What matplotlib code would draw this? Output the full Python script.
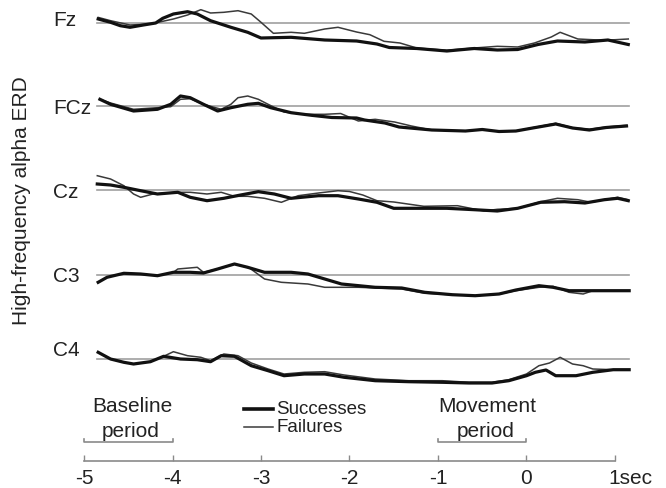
"""
High-frequency alpha ERD, successes vs failures, per channel
"""

import matplotlib
matplotlib.use("Agg")
from matplotlib import pyplot as plt
from matplotlib import transforms

plt.rcParams["font.family"] = ["Liberation Sans", "DejaVu Sans"]

channels = ["Fz", "FCz", "Cz", "C3", "C4"]

# Fz
t_fz_succ = [-4.84, -4.7, -4.59, -4.48, -4.33, -4.19, -4.11, -3.99, -3.83, -3.72, -3.57,
             -3.34, -3.15, -3.0, -2.66, -2.28, -1.92, -1.69, -1.55, -1.24, -0.9, -0.59,
             -0.33, -0.1, 0.13, 0.35, 0.66, 0.92, 1.15]
fz_succ = [4, 0.7, -2.7, -4.3, -2, 0, 4.7, 9, 11.3, 9, 2.3, -4.3, -9.3, -15, -14.3, -17,
           -18, -21, -24.5, -25.5, -28, -25.5, -27, -26.5, -21.5, -18, -19, -17, -21.5]
t_fz_fail = [-4.84, -4.7, -4.48, -4.25, -3.99, -3.83, -3.68, -3.57, -3.42, -3.26, -3.11,
             -3.0, -2.86, -2.66, -2.51, -2.28, -2.13, -1.92, -1.77, -1.61, -1.43, -1.24,
             -0.9, -0.59, -0.33, -0.1, 0.09, 0.28, 0.38, 0.58, 0.88, 1.15]
fz_fail = [5.6, 2.3, -2, -1, 4, 8, 13.3, 10, 10.7, 12.3, 9, 0.7, -10.3, -9.3, -10.3, -6,
           -4.3, -9, -11.7, -18.3, -20, -25, -27.3, -25, -23.3, -24, -20, -14, -9.3, -16,
           -17.3, -16]

# FCz
t_fcz_succ = [-4.82, -4.7, -4.44, -4.17, -4.02, -3.91, -3.8, -3.65, -3.49, -3.34, -3.15,
              -3.03, -2.89, -2.66, -2.43, -2.2, -1.92, -1.83, -1.6, -1.44, -1.07, -0.69,
              -0.5, -0.31, -0.12, 0.07, 0.33, 0.52, 0.71, 0.9, 1.13]
fcz_succ = [6.7, 1.7, -5, -3.3, 1.7, 10, 8.3, 1.7, -5, -1.7, 1.7, 2.7, -1.7, -6.7, -9.3,
            -11.5, -12, -14, -17, -21, -24, -25, -23.5, -25.5, -25, -22, -18, -22, -24,
            -21.5, -20]
t_fcz_fail = [-4.82, -4.7, -4.44, -4.17, -4.02, -3.91, -3.8, -3.65, -3.45, -3.34, -3.26,
              -3.15, -3.03, -2.92, -2.74, -2.51, -2.28, -2.1, -1.9, -1.71, -1.49, -1.3,
              -1.07, -0.69, -0.5, -0.31, -0.12, 0.07, 0.33, 0.52, 0.71, 0.9, 1.13]
fcz_fail = [6.7, 3, -3.3, -1.7, -0.7, 6.7, 7.3, 1.7, -3.3, 1.7, 8.3, 10, 6.7, 1.7, -6,
            -8.3, -8.3, -7.5, -15, -13.3, -16, -20, -24, -25, -23.3, -25.7, -25, -21.7,
            -17.3, -21.7, -23.3, -21, -19.3]

# Cz
t_cz_succ = [-4.85, -4.7, -4.55, -4.36, -4.17, -3.94, -3.8, -3.61, -3.42, -3.23, -3.03,
             -2.85, -2.66, -2.35, -2.13, -1.9, -1.69, -1.5, -1.16, -0.9, -0.59, -0.33,
             -0.1, 0.16, 0.43, 0.66, 0.88, 1.03, 1.15]
cz_succ = [6, 5, 2.7, -0.7, -4, -2.3, -7.3, -10.7, -8.3, -5, -1.7, -4, -8.3, -5.7, -5.7,
           -9, -12.3, -18.3, -18.3, -18.3, -19.7, -21, -18.3, -12.3, -11.7, -13, -9.7,
           -8.3, -10.7]
t_cz_fail = [-4.85, -4.7, -4.55, -4.44, -4.36, -4.22, -3.94, -3.8, -3.61, -3.45, -3.3,
             -3.15, -2.96, -2.77, -2.58, -2.35, -2.13, -2.0, -1.85, -1.69, -1.5, -1.16,
             -0.78, -0.48, -0.33, -0.1, 0.16, 0.35, 0.58, 0.73, 0.88, 1.03, 1.15]
cz_fail = [14.3, 11, 4.3, -4, -7.3, -4, -2.3, -2.3, -4, -2.3, -6.3, -6.3, -8.3, -12.3,
           -5.7, -3, -0.7, -1.5, -5, -10.7, -12, -16.3, -15.7, -21, -19.3, -18.3, -11.7,
           -8.3, -9.7, -12.3, -9.7, -7.3, -9.7]

# C3
t_c3_succ = [-4.84, -4.74, -4.55, -4.36, -4.17, -3.99, -3.8, -3.65, -3.49, -3.3, -3.15,
             -2.96, -2.66, -2.47, -2.28, -2.09, -1.71, -1.41, -1.15, -0.84, -0.58, -0.31,
             -0.12, 0.14, 0.3, 0.48, 0.75, 0.94, 1.16]
c3_succ = [-7.3, -2.3, 1.7, 1, -0.7, 2.7, 2.7, 2, 6, 11, 7.7, 2.7, 2.7, 1, -4, -9, -12.3,
           -13, -17.3, -19.7, -20.7, -19, -15, -10.7, -12.3, -15.7, -15.7, -15.7, -15.7]
t_c3_fail = [-4.84, -4.74, -4.55, -4.36, -4.17, -3.99, -3.94, -3.72, -3.65, -3.49, -3.3,
             -3.13, -2.96, -2.77, -2.47, -2.28, -1.9, -1.41, -1.15, -0.84, -0.58, -0.31,
             -0.12, 0.14, 0.3, 0.48, 0.64, 0.75, 0.94, 1.16]
c3_fail = [-7.3, -2.3, 1.7, 1, -0.7, 2.7, 6, 7.7, 2.7, 6, 11, 7, -4, -7.3, -9, -12.3,
           -12.3, -14, -18.3, -19.7, -20.7, -19, -15.7, -12.3, -11.3, -17.3, -19, -15.7,
           -15.7, -15.7]

# C4
t_c4_succ = [-4.84, -4.7, -4.55, -4.44, -4.25, -4.1, -3.91, -3.72, -3.57, -3.45, -3.3,
             -3.11, -2.92, -2.74, -2.51, -2.28, -2.06, -1.71, -1.33, -0.95, -0.65, -0.39,
             -0.2, 0.0, 0.1, 0.22, 0.33, 0.56, 0.75, 0.98, 1.16]
c4_succ = [6.7, 0, -3.3, -5, -2.7, 2.7, 0, -0.7, -2.7, 3.3, 2.7, -6.7, -11.7, -16.7, -15,
           -15, -18.3, -21.7, -22.7, -23.3, -24, -24, -21.7, -16.7, -13.3, -11, -16.7,
           -16.7, -13.3, -10.7, -10.7]
t_c4_fail = [-4.84, -4.7, -4.55, -4.44, -4.25, -4.1, -3.99, -3.83, -3.68, -3.57, -3.42,
             -3.26, -3.11, -2.92, -2.74, -2.51, -2.28, -2.06, -1.71, -1.33, -0.95, -0.65,
             -0.39, -0.2, 0.0, 0.14, 0.26, 0.38, 0.52, 0.64, 0.75, 0.98, 1.16]
c4_fail = [6.7, 0, -3.3, -5, -2.7, 2.7, 7.3, 3.3, 1.7, -1.7, 5, 3.3, -4, -10, -15, -13.3,
           -12.7, -16, -20, -21.7, -21.7, -23.3, -23.3, -20.7, -15, -6.7, -4, 1.7, -5,
           -6.7, -10, -10.7, -10.7]

succ = [(t_fz_succ, fz_succ), (t_fcz_succ, fcz_succ), (t_cz_succ, cz_succ),
        (t_c3_succ, c3_succ), (t_c4_succ, c4_succ)]
fail = [(t_fz_fail, fz_fail), (t_fcz_fail, fcz_fail), (t_cz_fail, cz_fail),
        (t_c3_fail, c3_fail), (t_c4_fail, c4_fail)]

xticks = [-5, -4, -3, -2, -1, 0, 1]
xticklabels = ["-5", "-4", "-3", "-2", "-1", "0", "1sec"]

# layout: vertical offset of each trace
offsets = [438, 355, 271, 186, 102]
t_start, t_end = -4.85, 1.16

fig = plt.figure(figsize=(6.66, 4.89), dpi=100)
ax = fig.add_axes([84 / 666, 27 / 489, 531 / 666, 462 / 489])
ax.set_xlim(-5, 1)
ax.set_ylim(0, 462)

fs = 15
txt_col = "#222222"

for name, off, (ts, vs), (tf, vf) in zip(channels, offsets, succ, fail):
    ax.plot([t_start, t_end], [off, off], color="#a0a0a0", lw=1.2, clip_on=False)
    ax.plot(tf, [v + off for v in vf], color="#3a3a3a", lw=1.1, clip_on=False)
    ax.plot(ts, [v + off for v in vs], color="#111111", lw=2.3, clip_on=False)

label_y = [442, 354, 269, 185, 112]
for name, y in zip(channels, label_y):
    ax.text(-5.35, y, name, fontsize=fs, color=txt_col, ha="left", va="center")

# axis
for s in ["top", "right", "left"]:
    ax.spines[s].set_visible(False)
ax.spines["bottom"].set_color("#8a8a8a")
ax.spines["bottom"].set_linewidth(1.2)
ax.set_yticks([])
ax.set_xticks(xticks)
ax.set_xticklabels(xticklabels)
ax.tick_params(axis="x", direction="in", length=4, width=1, color="#8a8a8a",
               labelsize=fs, labelcolor=txt_col, pad=5)
last = ax.get_xticklabels()[-1]
last.set_horizontalalignment("left")
last.set_transform(last.get_transform()
                   + transforms.ScaledTranslation(-7 / 100, 0, fig.dpi_scale_trans))

# period brackets
for a, b, cx, top in [(-5, -4, -4.45, "Baseline"), (-1, 0, -0.44, "Movement")]:
    ax.plot([a, a, b, b], [22, 19, 19, 22], color="#8a8a8a", lw=1.2, clip_on=False)
    ax.text(cx, 55, top, fontsize=fs, color=txt_col, ha="center", va="center")
    ax.text(cx - 0.02, 30, "period", fontsize=fs, color=txt_col, ha="center", va="center")

# legend
leg_fs = 13.5
ax.plot([-3.19, -2.86], [52, 52], color="#111111", lw=2.6)
ax.plot([-3.19, -2.86], [34, 34], color="#3a3a3a", lw=1.1)
ax.text(-2.83, 52, "Successes", fontsize=leg_fs, color=txt_col, ha="left", va="center")
ax.text(-2.83, 34, "Failures", fontsize=leg_fs, color=txt_col, ha="left", va="center")

fig.text(22 / 666, 1 - 201 / 489, "High-frequency alpha ERD", rotation=90,
         fontsize=fs, color=txt_col, ha="center", va="center")

plt.savefig("out.png")
plt.close()
